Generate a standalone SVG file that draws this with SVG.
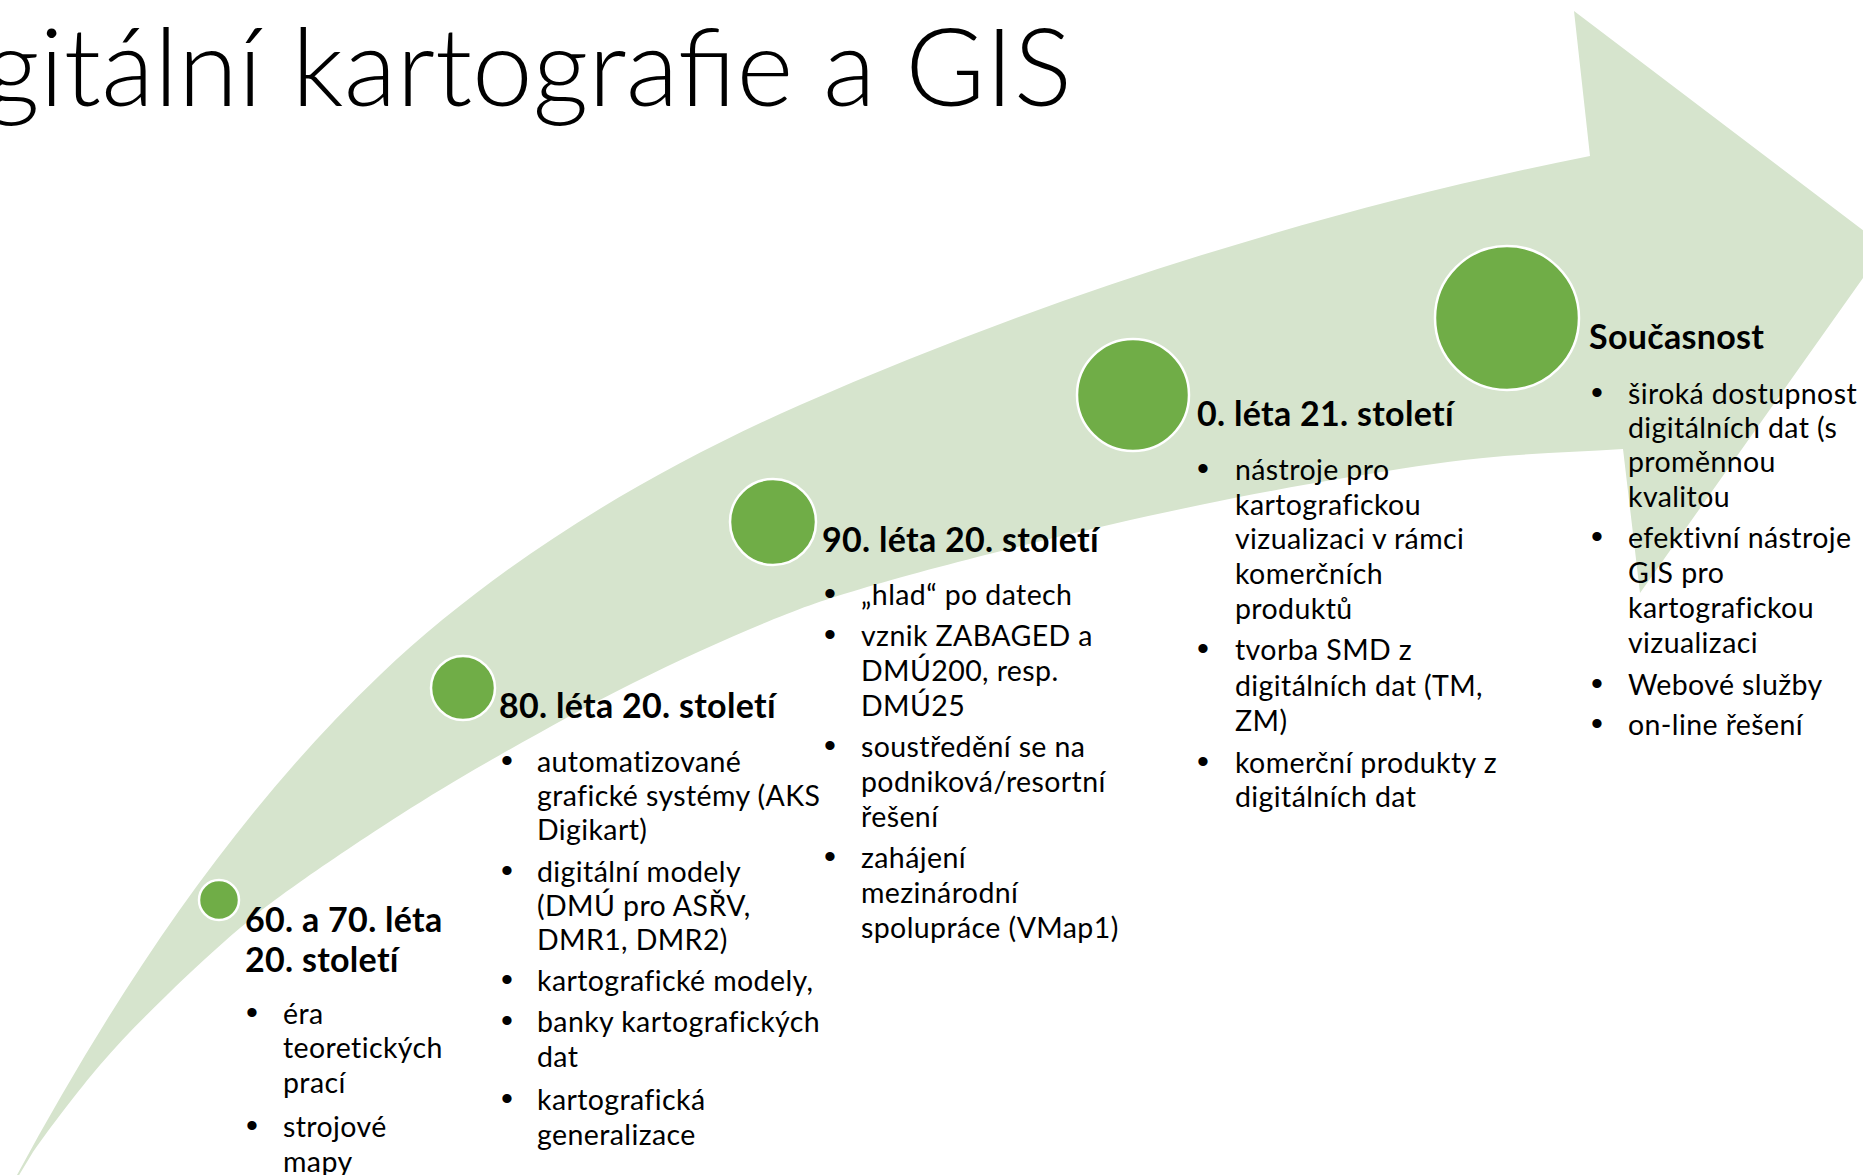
<svg xmlns="http://www.w3.org/2000/svg" width="1863" height="1175" viewBox="0 0 1863 1175">
<style>
  .bg { fill: #ffffff; }
  .band { fill: #D6E4CD; }
  .dot { fill: #70AD47; stroke: #ffffff; stroke-width: 2.5; }
  .title { font-family: Lato, "Liberation Sans", sans-serif; font-weight: 300; font-size: 108px; fill: #000; }
  .head { font-family: Lato, "Liberation Sans", sans-serif; font-weight: 700; font-size: 34px; letter-spacing: 0.3px; fill: #000; }
  .body { font-family: Lato, "Liberation Sans", sans-serif; font-size: 28.5px; letter-spacing: 0.4px; fill: #000; }
  .bul { font-family: "Liberation Sans", sans-serif; font-size: 34px; fill: #000; text-anchor: middle; }
</style>
<rect class="bg" x="0" y="0" width="1863" height="1175"/>
<text class="title" x="-16" y="106" textLength="1088" lengthAdjust="spacingAndGlyphs">gitální kartografie a GIS</text>
<path id="arrow" class="band" d="M -5,1215 L 17,1175 C 115,994 231,817 380,675 C 500,561 648,472 800,405 C 1053,294 1320,210 1590,156 L 1574,11 L 1885,247 L 1640,593 L 1623,449 C 1576.3,452 1528.5,453.3 1483,458 C 1437.5,462.7 1397.2,469.2 1350,477 C 1302.8,484.8 1252.8,494 1200,505 C 1147.2,516 1088.5,529.3 1033,543 C 977.5,556.7 911.3,573.8 867,587 C 822.7,600.2 806,606 767,622 C 728,638 677.5,660.8 633,683 C 588.5,705.2 538.8,733 500,755 C 461.2,777 433.3,793.8 400,815 C 366.7,836.2 326.7,863.2 300,882 C 273.3,900.8 262.2,909.2 240,928 C 217.8,946.8 190.3,972.2 167,995 C 143.7,1017.8 122.3,1038.8 100,1065 C 77.7,1091.2 50.5,1127 33,1152 L -5,1215 Z"/>
<g id="connectors"></g>

<g id="node-60-70">
  <circle class="dot" cx="219" cy="900" r="20"/>
  <text class="head" x="245" y="932">60. a 70. léta</text>
  <text class="head" x="245" y="972">20. století</text>
  <text class="bul" x="252" y="1024">•</text>
  <text class="bul" x="252" y="1137">•</text>
  <text class="body" x="283" y="1024">éra</text>
  <text class="body" x="283" y="1058">teoretických</text>
  <text class="body" x="283" y="1093">prací</text>
  <text class="body" x="283" y="1137">strojové</text>
  <text class="body" x="283" y="1172">mapy</text>
</g>

<g id="node-80">
  <circle class="dot" cx="463" cy="688" r="32"/>
  <text class="head" x="499" y="718">80. léta 20. století</text>
  <text class="bul" x="507" y="772">•</text>
  <text class="bul" x="507" y="882">•</text>
  <text class="bul" x="507" y="991">•</text>
  <text class="bul" x="507" y="1032">•</text>
  <text class="bul" x="507" y="1110">•</text>
  <text class="body" x="537" y="772">automatizované</text>
  <text class="body" x="537" y="806">grafické systémy (AKS</text>
  <text class="body" x="537" y="840">Digikart)</text>
  <text class="body" x="537" y="882">digitální modely</text>
  <text class="body" x="537" y="916">(DMÚ pro ASŘV,</text>
  <text class="body" x="537" y="950">DMR1, DMR2)</text>
  <text class="body" x="537" y="991">kartografické modely,</text>
  <text class="body" x="537" y="1032">banky kartografických</text>
  <text class="body" x="537" y="1067">dat</text>
  <text class="body" x="537" y="1110">kartografická</text>
  <text class="body" x="537" y="1145">generalizace</text>
</g>

<g id="node-90">
  <circle class="dot" cx="773" cy="522" r="43"/>
  <text class="head" x="822" y="552">90. léta 20. století</text>
  <text class="bul" x="830" y="605">•</text>
  <text class="bul" x="830" y="646">•</text>
  <text class="bul" x="830" y="757">•</text>
  <text class="bul" x="830" y="868">•</text>
  <text class="body" x="861" y="605">„hlad“ po datech</text>
  <text class="body" x="861" y="646">vznik ZABAGED a</text>
  <text class="body" x="861" y="681">DMÚ200, resp.</text>
  <text class="body" x="861" y="716">DMÚ25</text>
  <text class="body" x="861" y="757">soustředění se na</text>
  <text class="body" x="861" y="792">podniková/resortní</text>
  <text class="body" x="861" y="827">řešení</text>
  <text class="body" x="861" y="868">zahájení</text>
  <text class="body" x="861" y="903">mezinárodní</text>
  <text class="body" x="861" y="938">spolupráce (VMap1)</text>
</g>

<g id="node-2000s">
  <circle class="dot" cx="1133" cy="395" r="56"/>
  <text class="head" x="1197" y="426">0. léta 21. století</text>
  <text class="bul" x="1203" y="480">•</text>
  <text class="bul" x="1203" y="660">•</text>
  <text class="bul" x="1203" y="773">•</text>
  <text class="body" x="1235" y="480">nástroje pro</text>
  <text class="body" x="1235" y="515">kartografickou</text>
  <text class="body" x="1235" y="549">vizualizaci v rámci</text>
  <text class="body" x="1235" y="584">komerčních</text>
  <text class="body" x="1235" y="619">produktů</text>
  <text class="body" x="1235" y="660">tvorba SMD z</text>
  <text class="body" x="1235" y="696">digitálních dat (TM,</text>
  <text class="body" x="1235" y="731">ZM)</text>
  <text class="body" x="1235" y="773">komerční produkty z</text>
  <text class="body" x="1235" y="807">digitálních dat</text>
</g>

<g id="node-present">
  <circle class="dot" cx="1507" cy="318" r="72"/>
  <text class="head" x="1589" y="349">Současnost</text>
  <text class="bul" x="1597" y="404">•</text>
  <text class="bul" x="1597" y="548">•</text>
  <text class="bul" x="1597" y="695">•</text>
  <text class="bul" x="1597" y="735">•</text>
  <text class="body" x="1628" y="404">široká dostupnost</text>
  <text class="body" x="1628" y="438">digitálních dat (s</text>
  <text class="body" x="1628" y="472">proměnnou</text>
  <text class="body" x="1628" y="507">kvalitou</text>
  <text class="body" x="1628" y="548">efektivní nástroje</text>
  <text class="body" x="1628" y="583">GIS pro</text>
  <text class="body" x="1628" y="618">kartografickou</text>
  <text class="body" x="1628" y="653">vizualizaci</text>
  <text class="body" x="1628" y="695">Webové služby</text>
  <text class="body" x="1628" y="735">on-line řešení</text>
</g>
</svg>
